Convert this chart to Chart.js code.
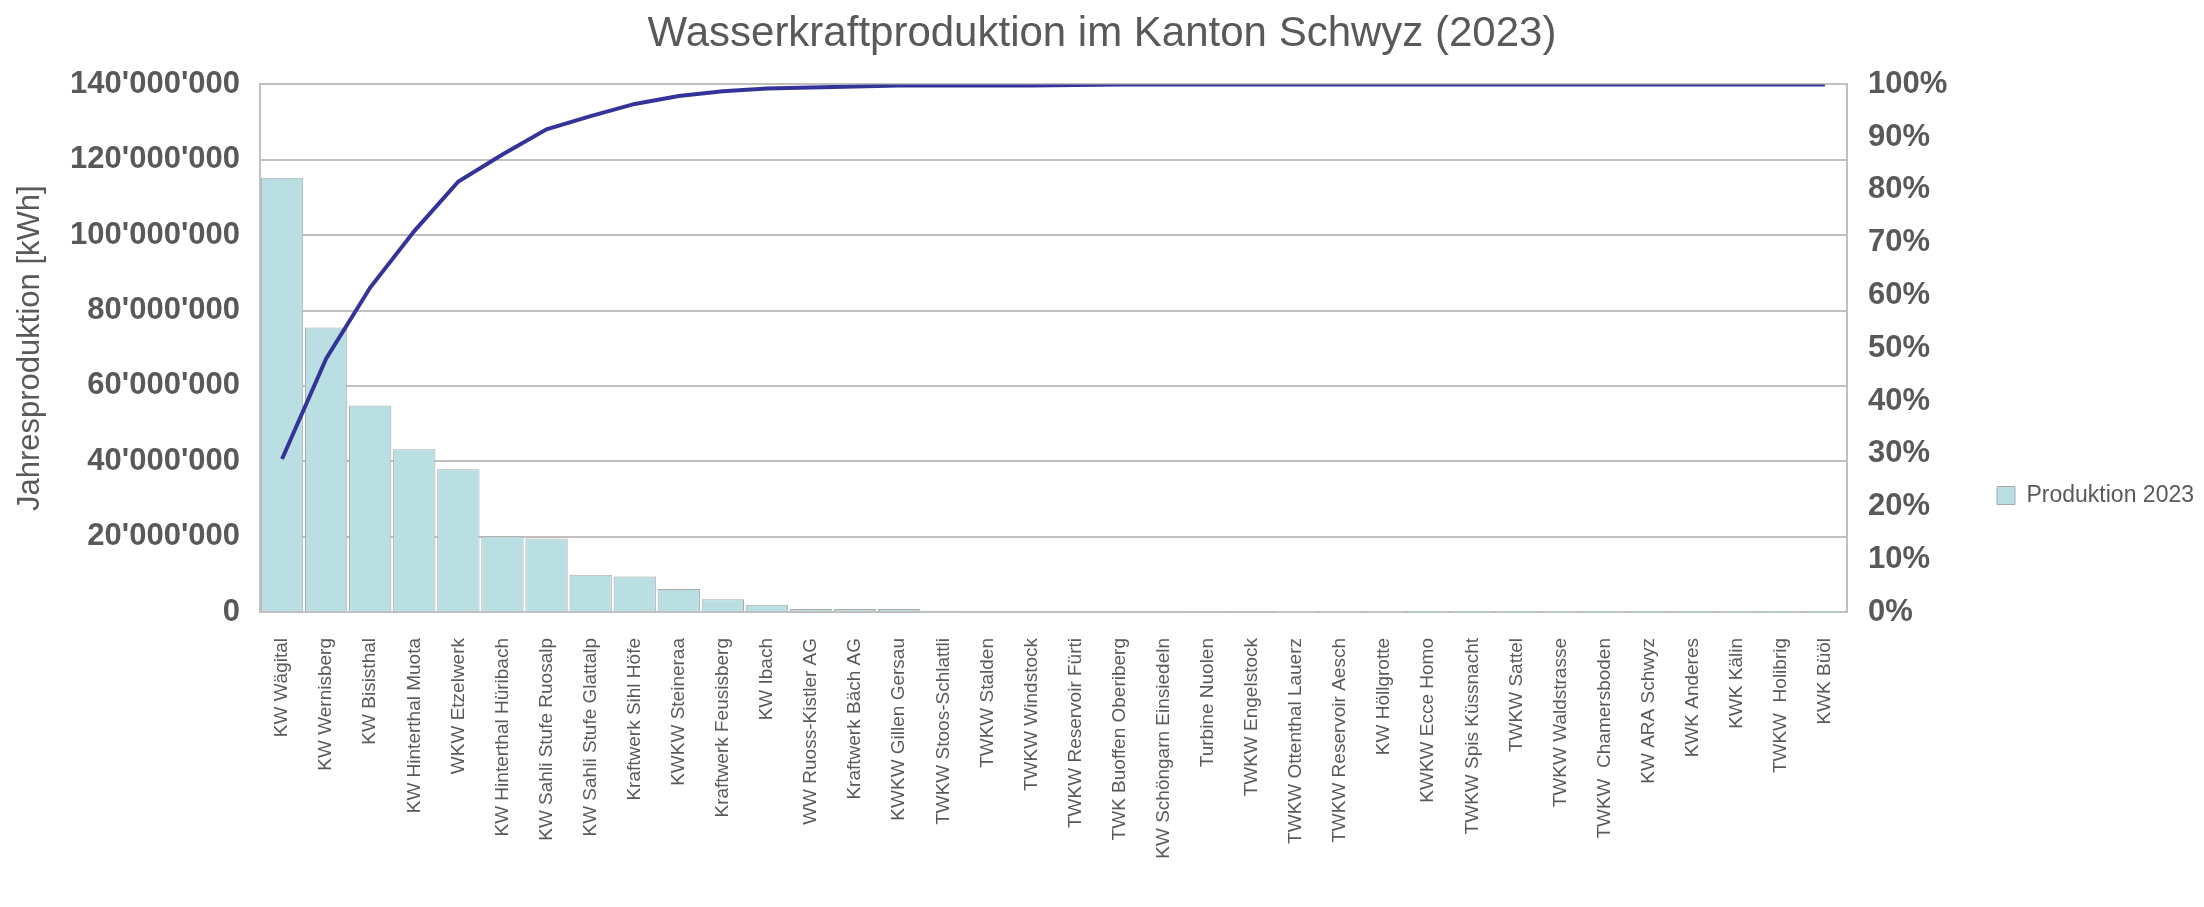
<!DOCTYPE html>
<html>
<head>
<meta charset="utf-8">
<script src="https://cdn.jsdelivr.net/npm/chart.js@4.4.1/dist/chart.umd.min.js"></script>
<style>
  html, body { margin: 0; padding: 0; background: #fff; }
  #wrap { width: 2204px; height: 907px; }
</style>
</head>
<body>
<div id="wrap"><canvas id="chart" width="2204" height="907"></canvas></div>
<script>
// Wasserkraftproduktion im Kanton Schwyz (2023)

const plants = [
  "KW Wägital", "KW Wernisberg", "KW Bisisthal", "KW Hinterthal Muota", "WKW Etzelwerk",
  "KW Hinterthal Hüribach", "KW Sahli Stufe Ruosalp", "KW Sahli Stufe Glattalp", "Kraftwerk Sihl Höfe",
  "KWKW Steineraa", "Kraftwerk Feusisberg", "KW Ibach", "WW Ruoss-Kistler AG", "Kraftwerk Bäch AG",
  "KWKW Gillen Gersau", "TWKW Stoos-Schlattli", "TWKW Stalden", "TWKW Windstock", "TWKW Reservoir Fürti",
  "TWK Buoffen Oberiberg", "KW Schöngarn Einsiedeln", "Turbine Nuolen", "TWKW Engelstock",
  "TWKW Ottenthal Lauerz", "TWKW Reservoir Aesch", "KW Höllgrotte", "KWKW Ecce Homo",
  "TWKW Spis Küssnacht", "TWKW Sattel", "TWKW Waldstrasse", "TWKW  Chamersboden", "KW ARA Schwyz",
  "KWK Anderes", "KWK Kälin", "TWKW  Holibrig", "KWK Büöl"
];

// Jahresproduktion [kWh]
const production = [
  115200000, 75500000, 54800000, 43200000, 37900000, 20100000, 19500000, 9900000, 9400000,
  6100000, 3400000, 1900000, 800000, 800000, 800000, 300000, 200000, 200000, 150000,
  120000, 100000, 80000, 70000, 60000, 50000, 40000, 30000, 30000, 20000, 20000,
  15000, 10000, 10000, 5000, 5000, 3000
];

// kumulierter Anteil [%]
const cumulativePct = [
  29.0, 48.0, 61.5, 72.2, 81.6, 86.7, 91.5, 94.0, 96.3, 97.8, 98.7, 99.2, 99.4, 99.6,
  99.8, 99.8, 99.8, 99.8, 99.9, 100, 100, 100, 100, 100, 100, 100, 100, 100, 100, 100,
  100, 100, 100, 100, 100, 100
];

const FONT = "'Liberation Sans', Arial, sans-serif";
const TEXT = "#595959";
const GRID = "#c0c0c0";

function swissFormat(v) {
  return String(v).replace(/\B(?=(\d{3})+(?!\d))/g, "'");
}

// the legend sits a bit below the vertical middle in the original
const legendShift = {
  id: "legendShift",
  afterLayout(chart) {
    if (chart.legend) chart.legend.top += 84;
  },
};

const ctx = document.getElementById("chart").getContext("2d");
new Chart(ctx, {
  data: {
    labels: plants,
    datasets: [
      {
        type: "bar",
        label: "Produktion 2023",
        data: production,
        backgroundColor: "#badfe2",
        borderColor: "#a9a9a9",
        borderWidth: 1,
        barPercentage: 0.96,
        categoryPercentage: 1,
        yAxisID: "y",
        order: 2,
      },
      {
        type: "line",
        label: "Kumuliert",
        data: cumulativePct,
        borderColor: "#333399",
        borderWidth: 4,
        pointRadius: 0,
        tension: 0,
        fill: false,
        yAxisID: "y2",
        order: 1,
      },
    ],
  },
  plugins: [legendShift],
  options: {
    responsive: false,
    animation: false,
    devicePixelRatio: 1,
    layout: { padding: 0 },
    plugins: {
      title: {
        display: true,
        text: "Wasserkraftproduktion im Kanton Schwyz (2023)",
        color: TEXT,
        font: { family: FONT, size: 42, weight: "normal" },
        padding: { top: 9, bottom: 25 },
      },
      legend: {
        position: "right",
        labels: {
          filter: item => item.datasetIndex === 0,
          color: TEXT,
          font: { family: FONT, size: 23 },
          boxWidth: 18,
          boxHeight: 18,
        },
      },
      tooltip: { enabled: false },
    },
    scales: {
      x: {
        grid: { display: false, drawTicks: false },
        border: { color: GRID, width: 2 },
        ticks: {
          autoSkip: false,
          maxRotation: 90,
          minRotation: 90,
          padding: 26,
          color: TEXT,
          font: { family: FONT, size: 19 },
        },
        afterFit: s => { s.height = 295; },
      },
      y: {
        position: "left",
        min: 0,
        max: 140000000,
        ticks: {
          stepSize: 20000000,
          padding: 20,
          color: TEXT,
          font: { family: FONT, size: 31, weight: "bold" },
          callback: v => swissFormat(v),
        },
        grid: { color: GRID, lineWidth: 2, drawTicks: false },
        border: { color: GRID, width: 2 },
        title: {
          display: true,
          text: "Jahresproduktion [kWh]",
          color: TEXT,
          font: { family: FONT, size: 31, weight: "normal" },
          padding: { top: 12, bottom: 0 },
        },
        afterFit: s => { s.width = 260; },
      },
      y2: {
        position: "right",
        min: 0,
        max: 100,
        ticks: {
          stepSize: 10,
          padding: 21,
          color: TEXT,
          font: { family: FONT, size: 31, weight: "bold" },
          callback: v => v + "%",
        },
        grid: { display: false, drawTicks: false },
        border: { color: GRID, width: 2 },
        afterFit: s => { s.width = 140; },
      },
    },
  },
});
</script>
</body>
</html>
